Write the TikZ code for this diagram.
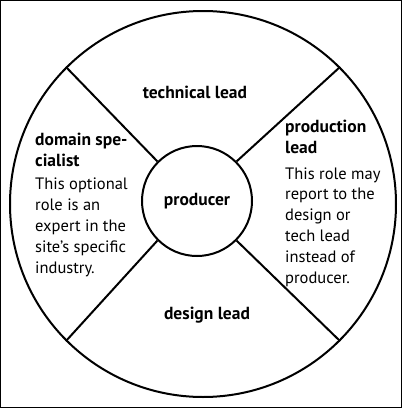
\documentclass[tikz,border=0pt]{standalone}
\usepackage{fontspec}
\setmainfont{PT Sans}
\usetikzlibrary{positioning}

\begin{document}
\begin{tikzpicture}[x=1pt,y=1pt,
  wheel/.style={circle,draw=black,line width=2pt,inner sep=0pt},
  spoke/.style={line width=2pt},
  rolehead/.style={font=\bfseries\fontsize{17.5}{20.5}\selectfont,align=left,inner sep=0pt},
  rolenote/.style={font=\fontsize{16.5}{20.8}\selectfont,align=left,inner sep=0pt}]
\path[use as bounding box] (0,0) rectangle (402,-408);
\draw[line width=1pt] (0.5,-0.5) rectangle (401.5,-407.5);

% the wheel
\node[wheel,minimum size=386pt] (ring) at (203,-204) {};
\node[wheel,minimum size=110pt,rolehead,align=center] (hub) at (197,-201) {producer};
\draw[spoke] (hub.135) -- (ring.135);
\draw[spoke] (hub.45) -- (ring.45);
\draw[spoke] (hub.-135) -- (ring.-135);
\draw[spoke] (hub.-45) -- (ring.-45);

% roles round the producer (base = last line)
\node[rolehead,anchor=base] (tech) at (195,-98) {technical lead};
\node[rolehead,anchor=base] (design) at (207,-319) {design lead};

\node[rolehead,anchor=base west] (domain) at (35,-166) {domain spe-\\cialist};
\node[rolenote,anchor=base west] (domainnote) at (35,-273) {This optional\\role is an\\expert in the\\site’s specific\\industry.};

\node[rolehead,anchor=base west] (prod) at (285,-153) {production\\lead};
\node[rolenote,anchor=base west] (prodnote) at (285,-283) {This role may\\report to the\\design or\\tech lead\\instead of\\producer.};
\end{tikzpicture}
\end{document}
